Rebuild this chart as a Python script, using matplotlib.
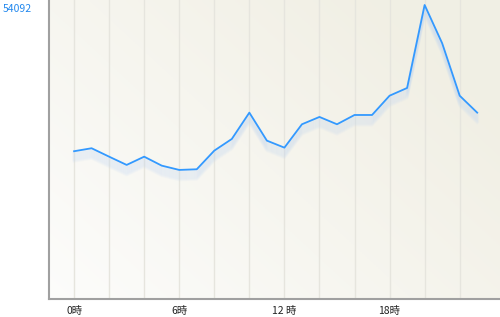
import numpy as np
import matplotlib
matplotlib.use("Agg")
import matplotlib.pyplot as plt
import matplotlib.transforms as mtransforms

plt.rcParams['font.family'] = ['Noto Sans CJK JP', 'DejaVu Sans']

# hourly counts (0時 .. 23時)
hours = list(range(24))
counts = [27180, 27730, 26180, 24660, 26180, 24530, 23740, 23860,
          27290, 29440, 34280, 29130, 27840, 32140, 33490, 32140,
          33850, 33850, 37400, 38820, 54092, 47050, 37400, 34280]
tick_hours = [0, 6, 12, 18]
tick_labels = ['0時', '6時', '12 時', '18時']
max_label = 54092

fig = plt.figure(figsize=(5, 3.17), dpi=100)
ax = fig.add_axes([0.098, 0.057, 0.902, 0.943])

x_lo, x_hi = -1.43, 24.3
y_hi = 55010
ax.set_xlim(x_lo, x_hi)
ax.set_ylim(0, y_hi)

# soft beige gradient background
gx, gy = np.meshgrid(np.linspace(0, 1, 200), np.linspace(0, 1, 120))
t = np.clip((gx * 0.7 + gy * 0.5), 0, 1)
c0 = np.array([0.99, 0.99, 0.985])
c1 = np.array([0.945, 0.938, 0.895])
img = c0 + (c1 - c0) * t[..., None]
ax.imshow(img, extent=[x_lo, x_hi, 0, y_hi], origin='lower', aspect='auto', zorder=0)

# vertical grid lines every 2 hours
for h in range(0, 24, 2):
    ax.axvline(h, color='#e6e5de', lw=1.0, zorder=1)

# drop shadow under the line
for i in range(1, 11):
    off = mtransforms.offset_copy(ax.transData, fig=fig, x=0, y=-i, units='dots')
    ax.plot(hours, counts, color='#c4d9f3', lw=2.0, alpha=0.11, transform=off, zorder=2)

ax.plot(hours, counts, color='#3399ff', lw=1.3, zorder=3)

for s in ['top', 'right']:
    ax.spines[s].set_visible(False)
ax.spines['left'].set_color('#a0a0a0')
ax.spines['bottom'].set_color('#a0a0a0')
ax.spines['left'].set_linewidth(1.5)
ax.spines['bottom'].set_linewidth(1.5)

ax.set_xticks(tick_hours)
ax.set_xticklabels(tick_labels, fontsize=7.5, color='#222222')
ax.set_yticks([max_label])
ax.set_yticklabels([str(max_label)], fontsize=7.5, color='#2288ee')
ax.tick_params(axis='x', length=0, pad=5)
ax.tick_params(axis='y', length=0, pad=12)
for lbl in ax.get_yticklabels():
    lbl.set_transform(lbl.get_transform() + mtransforms.ScaledTranslation(0, -0.03, fig.dpi_scale_trans))

fig.savefig('out.png', dpi=100)
